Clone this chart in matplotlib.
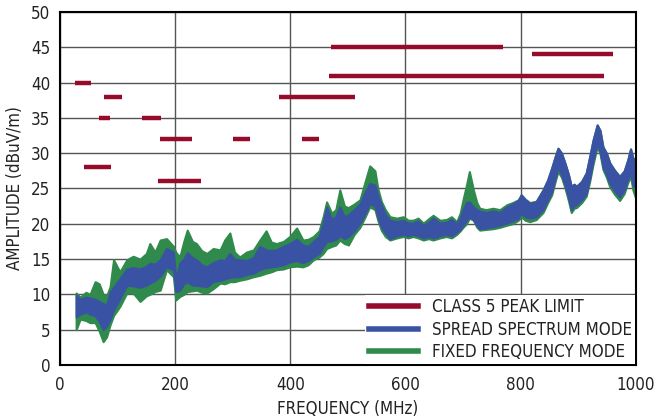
import matplotlib
matplotlib.use("Agg")
from matplotlib import pyplot as plt
from matplotlib.lines import Line2D
from matplotlib import font_manager

# class 5 peak limit segments: start MHz, stop MHz, level dBuV/m
lim_start = [26, 76, 68, 142, 174, 300, 420, 41, 171, 470, 468, 380, 820]
lim_stop = [54, 108, 87, 175, 230, 330, 450, 88, 245, 770, 944, 512, 960]
lim_level = [40, 38, 35, 35, 32, 32, 32, 28, 26, 45, 41, 38, 44]

# measured traces, read as upper/lower envelope of each band
freq = [28, 35, 45, 52, 61, 68, 75, 81, 87, 93, 104, 116, 127, 139, 150, 156,
        165, 174, 185, 197, 201, 208, 215, 221, 230, 237, 246, 255, 266, 278,
        286, 295, 303, 312, 324, 336, 347, 358, 367, 376, 388, 399, 411, 422,
        431, 440, 450, 457, 463, 472, 479, 486, 494, 501, 511, 521, 530, 538,
        547, 552, 558, 565, 573, 585, 596, 605, 613, 622, 631, 640, 648, 660,
        671, 680, 689, 695, 700, 706, 711, 718, 724, 729, 740, 752, 764, 776,
        786, 796, 801, 808, 816, 827, 839, 847, 854, 860, 865, 871, 877, 883,
        888, 893, 897, 906, 914, 920, 926, 933, 938, 943, 949, 955, 963, 972,
        980, 986, 991, 995, 1000]
fixed_hi = [10.2, 9.6, 10.3, 10.0, 11.8, 11.5, 10.0, 9.8, 11.1, 14.9, 13.2, 14.9,
            15.4, 15.0, 15.8, 17.2, 16.0, 17.7, 17.9, 16.8, 16.0, 15.3, 17.5, 19.1,
            17.5, 17.2, 16.2, 15.8, 16.5, 16.3, 17.7, 18.7, 16.0, 15.3, 16.0, 16.3,
            17.7, 19.0, 17.4, 17.2, 17.5, 18.2, 19.4, 17.7, 17.8, 18.2, 19.0, 21.0,
            23.1, 21.5, 22.0, 24.8, 22.5, 22.3, 22.8, 23.4, 26.0, 28.2, 27.5, 25.0,
            23.2, 22.0, 21.0, 20.8, 21.0, 20.5, 20.5, 20.8, 20.1, 20.7, 21.2, 20.5,
            20.6, 21.0, 20.3, 21.5, 23.4, 25.5, 27.4, 24.8, 23.0, 22.2, 22.0, 22.2,
            22.0, 22.7, 23.0, 23.4, 24.1, 23.5, 23.0, 23.2, 24.8, 26.2, 27.9, 29.5,
            30.7, 30.0, 28.6, 27.0, 25.3, 25.6, 25.3, 26.0, 27.2, 29.5, 31.9, 34.0,
            33.2, 30.9, 30.0, 28.6, 27.6, 26.7, 27.5, 29.0, 30.6, 29.3, 29.0]
fixed_lo = [5.0, 6.5, 6.3, 6.0, 6.0, 4.8, 3.3, 4.0, 5.7, 7.0, 8.3, 10.2,
            10.2, 9.0, 9.8, 10.0, 10.4, 10.6, 13.5, 12.5, 9.2, 9.7, 10.0, 10.4,
            10.5, 10.6, 10.3, 10.2, 10.8, 11.6, 11.5, 11.8, 11.8, 12.0, 12.2, 12.5,
            12.7, 13.0, 13.2, 13.5, 13.6, 13.9, 14.0, 13.9, 14.2, 14.9, 15.3, 15.8,
            16.5, 16.8, 17.0, 17.7, 17.2, 17.0, 18.5, 19.5, 21.0, 22.4, 22.0, 20.5,
            19.1, 18.2, 17.7, 18.0, 18.2, 18.0, 18.2, 18.0, 17.7, 17.9, 17.7, 18.0,
            18.2, 18.0, 18.5, 19.0, 19.5, 20.0, 20.8, 20.5, 19.5, 19.1, 19.2, 19.3,
            19.5, 19.8, 20.0, 20.5, 21.0, 20.5, 20.3, 20.6, 21.6, 23.0, 24.1, 26.0,
            27.4, 26.6, 25.1, 23.3, 21.6, 22.2, 22.3, 23.0, 23.9, 26.0, 28.5, 30.9,
            29.9, 27.7, 26.6, 25.2, 24.2, 23.3, 24.3, 25.8, 26.7, 24.8, 23.6]
spread_hi = [9.9, 9.3, 9.6, 9.5, 9.3, 9.0, 8.7, 8.5, 10.3, 11.0, 12.2, 13.6,
             13.8, 13.6, 14.0, 14.4, 14.3, 14.9, 16.5, 16.0, 12.2, 14.4, 15.0, 15.9,
             15.2, 14.9, 14.2, 13.9, 14.5, 14.9, 14.8, 15.8, 15.0, 14.9, 14.8, 15.2,
             16.8, 16.3, 16.2, 16.3, 16.8, 17.2, 17.8, 17.0, 16.8, 17.5, 18.2, 20.1,
             22.4, 20.6, 21.0, 22.4, 21.0, 21.3, 22.0, 22.8, 24.5, 25.7, 25.5, 24.0,
             22.7, 21.3, 20.5, 20.3, 20.5, 20.1, 20.1, 20.4, 19.8, 20.2, 20.8, 20.1,
             20.2, 20.6, 20.0, 20.8, 22.0, 23.0, 23.1, 22.4, 22.0, 21.8, 21.6, 21.8,
             21.6, 22.4, 22.8, 23.3, 24.1, 23.4, 22.9, 23.1, 24.8, 26.2, 27.9, 29.5,
             30.7, 30.0, 28.6, 27.0, 25.3, 25.6, 25.3, 26.0, 27.2, 29.5, 31.9, 34.0,
             33.2, 30.9, 30.0, 28.6, 27.6, 26.7, 27.5, 29.0, 30.6, 29.3, 29.0]
spread_lo = [6.8, 7.2, 7.5, 7.2, 7.0, 6.2, 5.0, 5.5, 6.5, 7.8, 9.4, 11.3,
             11.2, 11.0, 11.3, 11.6, 12.0, 12.6, 13.9, 13.5, 10.4, 10.6, 11.5, 11.8,
             11.3, 11.3, 11.2, 11.1, 11.8, 12.0, 12.2, 12.4, 12.5, 12.5, 12.8, 13.0,
             13.5, 13.8, 13.9, 14.0, 14.2, 14.6, 14.8, 14.5, 14.8, 15.3, 15.8, 16.8,
             17.5, 17.6, 17.8, 18.3, 17.9, 18.2, 19.0, 20.1, 21.5, 22.9, 22.5, 21.0,
             19.6, 18.7, 17.9, 18.3, 18.5, 18.3, 18.5, 18.3, 18.0, 18.2, 18.0, 18.3,
             18.5, 18.3, 18.8, 19.2, 19.8, 20.5, 21.0, 20.6, 19.8, 19.3, 19.4, 19.6,
             19.8, 20.1, 20.4, 20.8, 21.5, 21.0, 20.8, 21.0, 22.0, 23.4, 24.5, 26.5,
             27.9, 27.0, 25.5, 23.8, 22.0, 22.6, 22.7, 23.4, 24.3, 26.5, 29.0, 31.4,
             30.3, 28.1, 27.0, 25.7, 24.7, 23.8, 24.8, 26.3, 27.2, 25.5, 25.0]

red = '#960a2c'
blue = '#3a52a4'
green = '#2f8a4c'
ink = '#222222'

# condensed face if the system has one, plain DejaVu otherwise
names = {f.name for f in font_manager.fontManager.ttflist}
if 'Liberation Sans Narrow' in names:
    plt.rcParams['font.family'] = ['Liberation Sans Narrow', 'DejaVu Sans']
    fs = 13
else:
    plt.rcParams['font.family'] = ['DejaVu Sans']
    plt.rcParams['font.stretch'] = 'condensed'
    fs = 12.2

fig = plt.figure(figsize=(6.55, 4.2), dpi=100)
ax = fig.add_axes([0.0916, 0.131, 0.879, 0.8405])

ax.fill_between(freq, fixed_lo, fixed_hi, color=green, lw=1.5)
ax.fill_between(freq, spread_lo, spread_hi, color=blue, lw=1.5)
ax.hlines(lim_level, lim_start, lim_stop, colors=red, lw=3.2)

ax.set_xlim(0, 1000)
ax.set_ylim(0, 50)
ax.set_xticks(range(0, 1001, 200))
ax.set_yticks(range(0, 51, 5))
ax.grid(True, color='#555555', lw=1)
ax.set_axisbelow(True)
ax.tick_params(length=0, labelsize=fs, colors=ink)
ax.tick_params(axis='x', pad=8)
ax.tick_params(axis='y', pad=7)
for s in ax.spines.values():
    s.set_linewidth(1.5)
ax.set_xlabel('FREQUENCY (MHz)', fontsize=fs, color=ink, labelpad=4)
ax.set_ylabel('AMPLITUDE (dBuV/m)', fontsize=fs, color=ink, labelpad=5)

handles = [Line2D([], [], color=red, lw=4),
           Line2D([], [], color=blue, lw=4),
           Line2D([], [], color=green, lw=4)]
labels = ['CLASS 5 PEAK LIMIT', 'SPREAD SPECTRUM MODE', 'FIXED FREQUENCY MODE']
leg = ax.legend(handles, labels, loc='lower right', fontsize=fs, frameon=True,
                fancybox=False, edgecolor='none', facecolor='white', framealpha=1,
                handlelength=2.9, borderaxespad=0.05, labelspacing=0.25,
                handletextpad=0.8, borderpad=0.2)
for t in leg.get_texts():
    t.set_color(ink)

fig.savefig('out.png', dpi=100)
